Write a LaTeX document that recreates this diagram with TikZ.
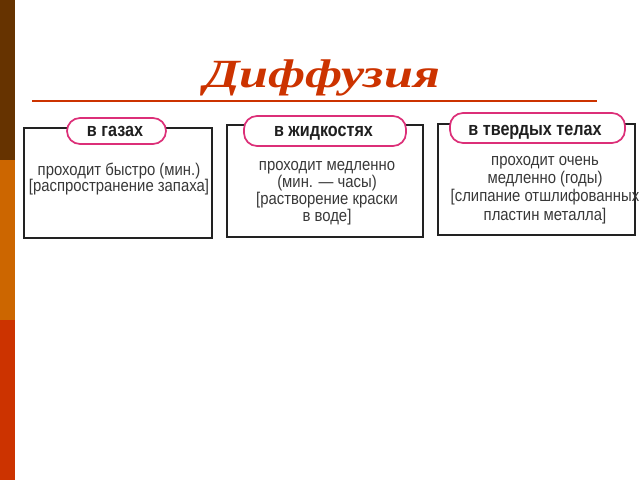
\documentclass[tikz,border=0pt]{standalone}
\usepackage{fontspec}
\setmainfont{Liberation Serif}
\setsansfont{Liberation Sans}
\newfontfamily\bodyfont[FakeStretch=0.875]{Liberation Sans}
\newfontfamily\pillfont[FakeStretch=0.85]{Liberation Sans}
\newfontfamily\titlefont[FakeStretch=1.3]{Liberation Serif}
\definecolor{barbrown}{HTML}{663300}
\definecolor{barorange}{HTML}{CC6600}
\definecolor{barred}{HTML}{CC3300}
\definecolor{titlered}{HTML}{CC3300}
\definecolor{pillpink}{HTML}{DC2F78}
\definecolor{boxline}{HTML}{222222}
\tikzset{
  framebox/.style={draw=boxline, line width=1.8pt},
  pill/.style={draw=pillpink, line width=1.7pt, fill=white, rounded corners=13pt},
  pilltext/.style={font=\pillfont\bfseries\fontsize{19}{21}\selectfont, text=black!88, anchor=base, inner sep=0pt},
  bodytext/.style={font=\bodyfont\fontsize{17}{#1}\selectfont, text=black!78, align=center, inner sep=0pt},
}
\begin{document}
\begin{tikzpicture}[x=1pt,y=-1pt]
\useasboundingbox (0,0) rectangle (640,480);
% left bar
\fill[barbrown] (0,0) rectangle (15,160);
\fill[barorange] (0,160) rectangle (15,320);
\fill[barred] (0,320) rectangle (15,480);
% title
\node[font=\titlefont\bfseries\itshape\fontsize{40}{44}\selectfont, text=titlered, anchor=base] (title) at (322,87) {Диффузия};
\coordinate (rl) at (32,101);
\coordinate (rr) at (597,101);
\draw[titlered, line width=1.3pt] (rl) -- (rr);
% box 1
\draw[framebox] (24,128) rectangle (212,238);
\draw[pill] (67,118) rectangle (166,144);
\node[pilltext] (p1) at (115,136) {в газах};
\node[bodytext=14] (t1) at (119,179) {проходит быстро (мин.)\\{}[распространение запаха]};
% box 2
\draw[framebox] (227,125) rectangle (423,237);
\draw[pill] (244,116) rectangle (406,146);
\node[pilltext] (p2) at (323.5,136) {в жидкостях};
\node[bodytext=17] (t2) at (327,193) {проходит медленно\\(мин. — часы)\\{}[растворение краски\\в воде]};
% box 3
\draw[framebox] (438,124) rectangle (635,235);
\draw[pill] (450,113) rectangle (625,143);
\node[pilltext] (p3) at (535,135) {в твердых телах};
\node[bodytext=18.3] (t3) at (545,190) {проходит очень\\медленно (годы)\\{}[слипание отшлифованных\\пластин металла]};
\end{tikzpicture}
\end{document}
